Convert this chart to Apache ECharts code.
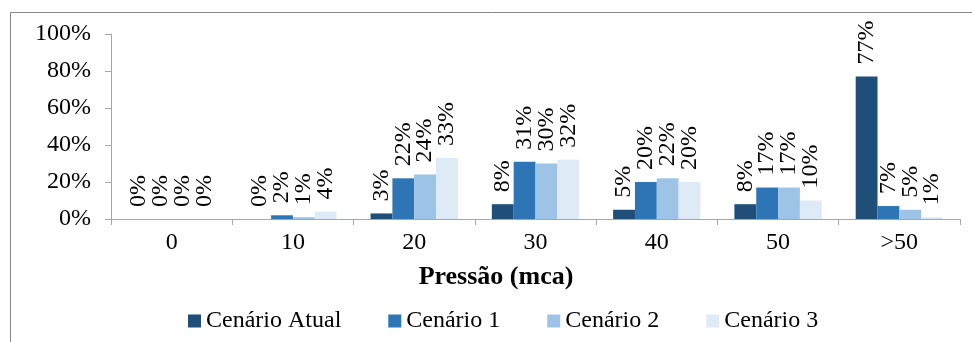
<!DOCTYPE html>
<html>
<head>
<meta charset="utf-8">
<script src="https://cdn.jsdelivr.net/npm/echarts@6/dist/echarts.min.js"></script>
<style>
  html, body { margin: 0; padding: 0; background: #fff; }
  #chart { width: 972px; height: 342px; }
</style>
</head>
<body>
<div id="chart"></div>
<script>
// Pressure classes (mca) on the category axis
var categories = ['0', '10', '20', '30', '40', '50', '>50'];

// Share of nodes per pressure class (%) for each scenario
var cenarioAtual = [0, 0, 3, 8, 5, 8, 77];
var cenario1     = [0, 2, 22, 31, 20, 17, 7];
var cenario2     = [0, 1, 24, 30, 22, 17, 5];
var cenario3     = [0, 4, 33, 32, 20, 10, 1];

var seriesNames = ['Cenário Atual', 'Cenário 1', 'Cenário 2', 'Cenário 3'];
var seriesValues = [cenarioAtual, cenario1, cenario2, cenario3];
var seriesColors = ['#1F4E79', '#2E75B6', '#9DC3E6', '#DEEBF7'];

var FONT = 'Liberation Serif';

function render() {
  var chart = echarts.init(document.getElementById('chart'));

  var series = seriesNames.map(function (name, i) {
    return {
      name: name,
      type: 'bar',
      data: seriesValues[i],
      barGap: '0%',
      barCategoryGap: '28%',
      itemStyle: { color: seriesColors[i] },
      label: {
        show: true,
        position: 'top',
        rotate: 90,
        align: 'left',
        verticalAlign: 'middle',
        distance: 12,
        formatter: '{c}%',
        fontFamily: FONT,
        fontSize: 24,
        color: '#000'
      }
    };
  });

  chart.setOption({
    animation: false,
    backgroundColor: '#fff',
    textStyle: { fontFamily: FONT },
    graphic: [{
      type: 'rect',
      shape: { x: 10.5, y: 12.5, width: 980, height: 350 },
      style: { fill: 'none', stroke: '#868686', lineWidth: 1 },
      silent: true
    }],
    title: {
      text: 'Pressão (mca)',
      left: 491,
      top: 259,
      textAlign: 'center',
      textStyle: { fontFamily: FONT, fontSize: 26, fontWeight: 'bold', color: '#000' }
    },
    legend: {
      data: seriesNames,
      left: 183,
      top: 304,
      icon: 'rect',
      itemWidth: 13,
      itemHeight: 13,
      itemGap: 47,
      textStyle: { fontFamily: FONT, fontSize: 24, color: '#000' }
    },
    grid: { left: 111, right: 12, top: 34, bottom: 123, containLabel: false },
    xAxis: {
      type: 'category',
      data: categories,
      axisLine: { lineStyle: { color: '#A6A6A6', width: 1 } },
      axisTick: { show: true, length: 6, lineStyle: { color: '#A6A6A6' } },
      axisLabel: { fontFamily: FONT, fontSize: 24, color: '#000', margin: 12 }
    },
    yAxis: {
      type: 'value',
      min: 0,
      max: 100,
      interval: 20,
      splitLine: { show: false },
      axisLine: { show: true, lineStyle: { color: '#A6A6A6', width: 1 } },
      axisTick: { show: true, length: 6, lineStyle: { color: '#A6A6A6' } },
      axisLabel: { formatter: '{value}%', fontFamily: FONT, fontSize: 24, color: '#000', margin: 20 }
    },
    series: series
  });
}

// make sure the serif face is ready before the canvas draws text
if (document.fonts && document.fonts.load) {
  Promise.all([
    document.fonts.load('24px "Liberation Serif"'),
    document.fonts.load('bold 26px "Liberation Serif"')
  ]).then(render, render);
} else {
  render();
}
</script>
</body>
</html>
